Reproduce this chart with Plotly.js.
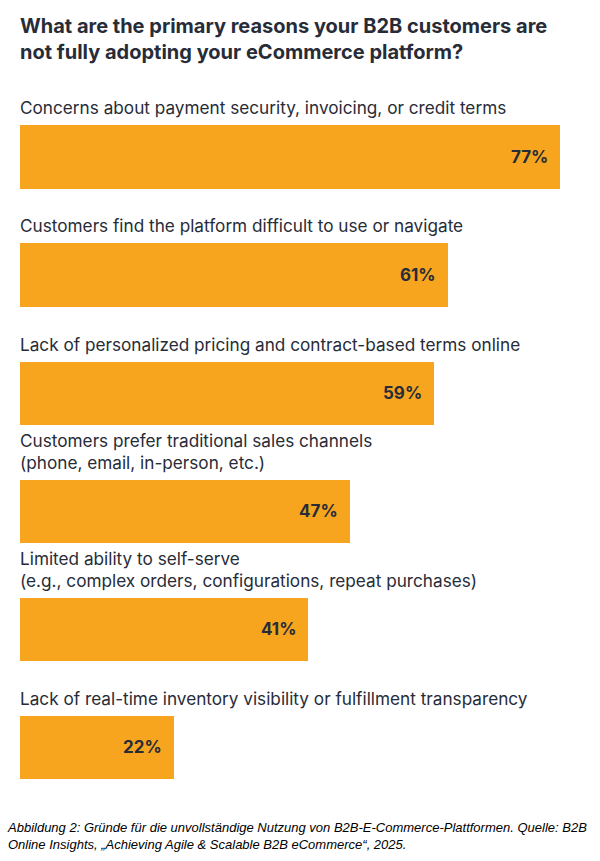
<!DOCTYPE html>
<html>
<head>
<meta charset="utf-8">
<script src="https://cdn.plot.ly/plotly-3.0.1.min.js"></script>
<style>html,body{margin:0;padding:0;background:#fff;}#chart{width:600px;height:861px;}</style>
</head>
<body>
<div id="chart"></div>
<script>
const categories = [
  "Concerns about payment security, invoicing, or credit terms",
  "Customers find the platform difficult to use or navigate",
  "Lack of personalized pricing and contract-based terms online",
  "Customers prefer traditional sales channels<br>(phone, email, in-person, etc.)",
  "Limited ability to self-serve<br>(e.g., complex orders, configurations, repeat purchases)",
  "Lack of real-time inventory visibility or fulfillment transparency"
];
const values = [77, 61, 59, 47, 41, 22];
const valueLabels = ["77%", "61%", "59%", "47%", "41%", "22%"];
const titleText = "What are the primary reasons your B2B customers are<br>not fully adopting your eCommerce platform?";
const captionText = "Abbildung 2: Gründe für die unvollständige Nutzung von B2B-E-Commerce-Plattformen. Quelle: B2B<br>Online Insights, „Achieving Agile &amp; Scalable B2B eCommerce“, 2025.";

const pos = categories.map((c, i) => i);
const ORANGE = "#F7A51F";
const DARK = "#272C38";
const FONT = "Inter, Lato, sans-serif";

const trace = {
  type: "bar",
  orientation: "h",
  x: values,
  y: pos,
  width: 0.535,
  marker: {color: ORANGE, line: {width: 0}},
  hoverinfo: "skip"
};

const annotations = [];
categories.forEach((c, i) => {
  annotations.push({
    xref: "x", yref: "y", x: 0, y: pos[i] - 0.2675,
    xanchor: "left", yanchor: "bottom", yshift: 5, xshift: -2,
    text: c, showarrow: false, align: "left",
    font: {family: FONT, size: 17.2, color: DARK}
  });
  annotations.push({
    xref: "x", yref: "y", x: values[i], y: pos[i],
    xanchor: "right", yanchor: "middle", xshift: -10,
    text: "<b>" + valueLabels[i] + "</b>", showarrow: false,
    font: {family: FONT, size: 17, color: DARK}
  });
});
annotations.push({
  xref: "paper", yref: "paper", x: -2/560, y: 1 + (98 - 39)/700,
  xanchor: "left", yanchor: "middle", align: "left",
  text: "<b>" + titleText + "</b>", showarrow: false,
  font: {family: FONT, size: 20, color: DARK}
});
annotations.push({
  xref: "paper", yref: "paper", x: -15/560, y: -(836-798)/700,
  xanchor: "left", yanchor: "middle", align: "left",
  text: "<i>" + captionText + "</i>", showarrow: false,
  font: {family: "'Liberation Sans', Arial, sans-serif", size: 13, color: "#000"}
});

const layout = {
  width: 600, height: 861,
  margin: {l: 20, r: 20, t: 98, b: 63},
  paper_bgcolor: "#fff", plot_bgcolor: "#fff",
  xaxis: {range: [0, 560/7.013], visible: false, fixedrange: true},
  yaxis: {range: [5.43, -0.5], visible: false, fixedrange: true},
  showlegend: false,
  bargap: 0,
  annotations: annotations
};

Plotly.newPlot("chart", [trace], layout, {displayModeBar: false, staticPlot: true});
</script>
</body>
</html>
